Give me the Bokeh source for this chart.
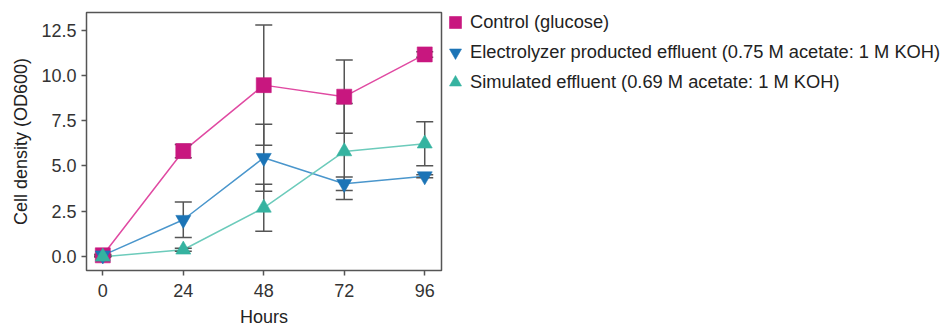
from bokeh.plotting import figure
from bokeh.models import FixedTicker, PrintfTickFormatter, Legend, LegendItem
from bokeh.embed import file_html
from bokeh.resources import INLINE

hours = [0, 24, 48, 72, 96]
x_ticks = [0, 24, 48, 72, 96]
y_ticks = [0.0, 2.5, 5.0, 7.5, 10.0, 12.5]

control = [0.05, 5.82, 9.47, 8.83, 11.17]
control_err = [0.05, 0.37, 3.33, 2.03, 0.15]
electro = [0.05, 2.02, 5.45, 4.01, 4.43]
electro_err = [0.05, 0.98, 1.85, 0.37, 0.08]
sim = [-0.03, 0.36, 2.68, 5.80, 6.23]
sim_err = [0.03, 0.08, 1.30, 2.66, 1.22]

names = ["Control (glucose)",
         "Electrolyzer producted effluent (0.75 M acetate: 1 M KOH)",
         "Simulated effluent (0.69 M acetate: 1 M KOH)"]
marker_colors = ["#c8177f", "#1c74b6", "#35b3a0"]
line_colors = ["#e04aa2", "#4a96cc", "#6ccbbb"]
markers = ["square", "inverted_triangle", "triangle"]
sizes = [15, 15, 15]

FONT = "Liberation Sans"

p = figure(frame_width=355, frame_height=258, output_backend="svg", toolbar_location=None,
           x_range=(-4.86, 101.0), y_range=(-0.79, 13.49),
           min_border_left=86, min_border_top=12, min_border_bottom=56, min_border_right=0)

p.xgrid.visible = False
p.ygrid.visible = False
p.outline_line_color = "#555555"
p.outline_line_width = 1.5
p.background_fill_color = "white"
p.border_fill_color = "white"

for ax in (p.xaxis[0], p.yaxis[0]):
    ax.axis_line_color = None
    ax.major_tick_line_color = "#555555"
    ax.major_tick_line_width = 1.5
    ax.major_tick_out = 5
    ax.major_tick_in = 0
    ax.minor_tick_line_color = None
    ax.major_label_text_font = FONT
    ax.major_label_text_font_size = "18px"
    ax.major_label_text_color = "#333333"
    ax.axis_label_text_font = FONT
    ax.axis_label_text_font_size = "18px"
    ax.axis_label_text_font_style = "normal"
    ax.axis_label_text_color = "#222222"

p.xaxis.ticker = FixedTicker(ticks=x_ticks)
p.yaxis.ticker = FixedTicker(ticks=y_ticks)
p.yaxis.formatter = PrintfTickFormatter(format="%.1f")
p.xaxis.axis_label = "Hours"
p.yaxis.axis_label = "Cell density (OD600)"
p.xaxis.major_label_standoff = 8
p.yaxis.major_label_standoff = 5
p.xaxis.axis_label_standoff = 7
p.yaxis.axis_label_standoff = 7

series = [(control, control_err), (electro, electro_err), (sim, sim_err)]

# lines
for (vals, err), lc in zip(series, line_colors):
    p.line(hours, vals, line_color=lc, line_width=1.5)

# error bars
for vals, err in series:
    up = [v + e for v, e in zip(vals, err)]
    lo = [v - e for v, e in zip(vals, err)]
    p.segment(x0=hours, y0=lo, x1=hours, y1=up, line_color="#555555", line_width=1.5)
    p.scatter(hours + hours, up + lo, marker="dash", size=17, line_color="#555555", line_width=1.5)

# markers
items = []
for (vals, err), mc, mk, sz, nm in zip(series, marker_colors, markers, sizes, names):
    r = p.scatter(hours, vals, marker=mk, size=sz, fill_color=mc, line_color=mc, line_alpha=0.6)
    items.append(LegendItem(label=nm, renderers=[r]))

legend = Legend(items=items, location=(-1, 173), padding=0, margin=0,
                glyph_width=30, glyph_height=30, spacing=0, label_standoff=0,
                border_line_color=None, background_fill_alpha=0,
                label_text_font=FONT, label_text_font_size="18.3px", label_text_color="#222222")
p.add_layout(legend, "right")

open("out.html", "w").write(file_html(p, INLINE))
